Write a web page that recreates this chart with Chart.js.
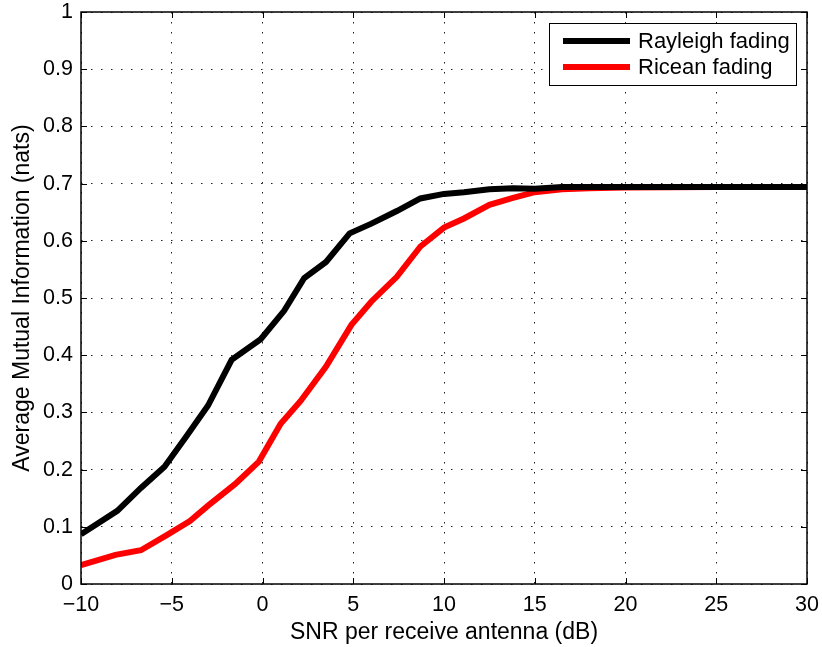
<!DOCTYPE html>
<html>
<head>
<meta charset="utf-8">
<script src="https://cdn.jsdelivr.net/npm/chart.js@4.4.0/dist/chart.umd.min.js"></script>
<style>
  html, body { margin: 0; padding: 0; background: #fff; }
  #wrap { width: 822px; height: 647px; }
</style>
</head>
<body>
<div id="wrap"><canvas id="miChart" width="822" height="647"></canvas></div>
<script>
// SNR (dB) and mutual information (nats) for each fading model
const snrRayleigh = [-10, -8.0, -6.7, -5.4, -4.2, -3.0, -1.7, -0.1, 1.2, 2.3, 3.5, 4.8, 6.0, 7.4, 8.7, 10.0, 11.1, 12.5, 13.8, 15.0, 16.5, 18, 20, 25, 30];
const miRayleigh  = [0.087, 0.128, 0.168, 0.205, 0.258, 0.312, 0.392, 0.428, 0.478, 0.535, 0.563, 0.613, 0.630, 0.652, 0.674, 0.682, 0.685, 0.690, 0.692, 0.691, 0.694, 0.694, 0.694, 0.694, 0.694];

const snrRicean = [-10, -8.1, -6.7, -5.3, -4.0, -3.0, -1.5, -0.2, 1.0, 2.1, 3.5, 4.9, 6.0, 7.4, 8.7, 10.0, 11.1, 12.5, 13.8, 15.0, 16.5, 18, 20, 25, 30];
const miRicean  = [0.033, 0.051, 0.059, 0.085, 0.110, 0.137, 0.175, 0.214, 0.280, 0.320, 0.380, 0.453, 0.494, 0.537, 0.590, 0.623, 0.639, 0.663, 0.675, 0.685, 0.690, 0.692, 0.693, 0.694, 0.694];

const seriesNames = ['Rayleigh fading', 'Ricean fading'];
const seriesColors = ['#000000', '#ff0000'];

const xTicks = [-10, -5, 0, 5, 10, 15, 20, 25, 30];
const yTicks = [0, 0.1, 0.2, 0.3, 0.4, 0.5, 0.6, 0.7, 0.8, 0.9, 1];

const FONT = 'Liberation Sans, Arial, Helvetica, sans-serif';

function toPoints(xs, ys) {
  return xs.map((x, i) => ({ x: x, y: ys[i] }));
}

// box around the axes + inward ticks on all four sides
const boxPlugin = {
  id: 'box',
  afterDraw(chart) {
    const { ctx, chartArea: a, scales } = chart;
    ctx.save();
    ctx.strokeStyle = '#000';
    ctx.lineWidth = 1.5;
    ctx.strokeRect(a.left, a.top, a.right - a.left, a.bottom - a.top);
    const len = 6;
    ctx.lineWidth = 1;
    ctx.beginPath();
    xTicks.forEach(v => {
      const px = Math.round(scales.x.getPixelForValue(v)) + 0.5;
      ctx.moveTo(px, a.bottom); ctx.lineTo(px, a.bottom - len);
      ctx.moveTo(px, a.top); ctx.lineTo(px, a.top + len);
    });
    yTicks.forEach(v => {
      const py = Math.round(scales.y.getPixelForValue(v)) + 0.5;
      ctx.moveTo(a.left, py); ctx.lineTo(a.left + len, py);
      ctx.moveTo(a.right, py); ctx.lineTo(a.right - len, py);
    });
    ctx.stroke();
    ctx.restore();
  }
};

// legend box in the top-right corner
const legendBox = {
  id: 'legendBox',
  afterDraw(chart) {
    const { ctx, chartArea: a } = chart;
    const w = 247, h = 62;
    const x0 = a.right - 11 - w, y0 = a.top + 11;
    ctx.save();
    ctx.fillStyle = '#fff';
    ctx.fillRect(x0, y0, w, h);
    ctx.strokeStyle = '#000';
    ctx.lineWidth = 1;
    ctx.strokeRect(x0 + 0.5, y0 + 0.5, w, h);
    ctx.font = '22px ' + FONT;
    ctx.textBaseline = 'middle';
    seriesNames.forEach((name, i) => {
      const cy = y0 + 18 + i * 26;
      ctx.strokeStyle = seriesColors[i];
      ctx.lineWidth = 6;
      ctx.beginPath();
      ctx.moveTo(x0 + 14, cy); ctx.lineTo(x0 + 81, cy);
      ctx.stroke();
      ctx.fillStyle = '#000';
      ctx.fillText(name, x0 + 89, cy + 1);
    });
    ctx.restore();
  }
};

const ctx = document.getElementById('miChart').getContext('2d');
const chart = new Chart(ctx, {
  type: 'line',
  data: {
    datasets: [
      { label: seriesNames[0], data: toPoints(snrRayleigh, miRayleigh), borderColor: seriesColors[0], borderWidth: 6, pointRadius: 0, fill: false, tension: 0 },
      { label: seriesNames[1], data: toPoints(snrRicean, miRicean), borderColor: seriesColors[1], borderWidth: 6, pointRadius: 0, fill: false, tension: 0 }
    ]
  },
  options: {
    responsive: false,
    animation: false,
    layout: { autoPadding: false, padding: { left: 0, top: 12, right: 15, bottom: 0 } },
    plugins: { legend: { display: false }, tooltip: { enabled: false } },
    scales: {
      x: {
        type: 'linear', min: -10, max: 30,
        afterBuildTicks: s => { s.ticks = xTicks.map(v => ({ value: v })); },
        afterFit: s => { s.height = 63; s.paddingLeft = 0; s.paddingRight = 0; },
        ticks: {
          color: '#000', padding: 8, maxRotation: 0,
          font: { family: FONT, size: 21.5 },
          callback: v => String(v).replace('-', '\u2212')
        },
        grid: { color: '#222', lineWidth: 1, drawTicks: false },
        border: { display: false, dash: [1.5, 8.5] },
        title: { display: true, text: 'SNR per receive antenna (dB)', color: '#000', font: { family: FONT, size: 23 }, padding: { top: 0, bottom: 1 } }
      },
      y: {
        min: 0, max: 1,
        afterBuildTicks: s => { s.ticks = yTicks.map(v => ({ value: v })); },
        afterFit: s => { s.width = 81; s.paddingTop = 0; s.paddingBottom = 0; },
        ticks: {
          color: '#000', padding: 8,
          font: { family: FONT, size: 21.5 },
          callback: v => String(v)
        },
        grid: { color: '#222', lineWidth: 1, drawTicks: false },
        border: { display: false, dash: [1.5, 8.5] },
        title: { display: true, text: 'Average Mutual Information (nats)', color: '#000', font: { family: FONT, size: 23 }, padding: { top: 9, bottom: 0 } }
      }
    }
  },
  plugins: [legendBox, boxPlugin]
});
</script>
</body>
</html>
